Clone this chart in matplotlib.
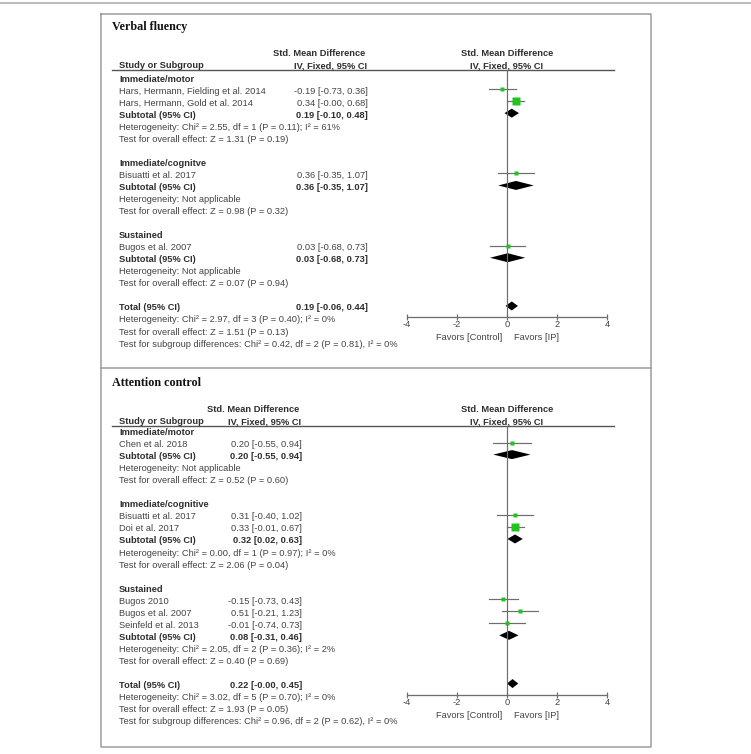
import matplotlib
matplotlib.use("Agg")
import matplotlib.pyplot as plt
from matplotlib import transforms

plt.rcParams["axes.unicode_minus"] = False
plt.rcParams["font.family"] = ["Liberation Sans", "DejaVu Sans"]

# ---- Verbal fluency ----
vf_groups = ["Immediate/motor", "Immediate/cognitve", "Sustained"]
vf_studies = [
    ["Hars, Hermann, Fielding et al. 2014", "Hars, Hermann, Gold et al. 2014"],
    ["Bisuatti et al. 2017"],
    ["Bugos et al. 2007"],
]
vf_est = [[-0.19, 0.34], [0.36], [0.03]]
vf_lo = [[-0.73, -0.0], [-0.35], [-0.68]]
vf_hi = [[0.36, 0.68], [1.07], [0.73]]
vf_sub = [(0.19, -0.10, 0.48), (0.36, -0.35, 1.07), (0.03, -0.68, 0.73)]
vf_het = [
    "Heterogeneity: Chi² = 2.55, df = 1 (P = 0.11); I² = 61%",
    "Heterogeneity: Not applicable",
    "Heterogeneity: Not applicable",
]
vf_test = [
    "Test for overall effect: Z = 1.31 (P = 0.19)",
    "Test for overall effect: Z = 0.98 (P = 0.32)",
    "Test for overall effect: Z = 0.07 (P = 0.94)",
]
vf_total = (0.19, -0.06, 0.44)
vf_total_text = [
    "Heterogeneity: Chi² = 2.97, df = 3 (P = 0.40); I² = 0%",
    "Test for overall effect: Z = 1.51 (P = 0.13)",
    "Test for subgroup differences: Chi² = 0.42, df = 2 (P = 0.81), I² = 0%",
]

# ---- Attention control ----
ac_groups = ["Immediate/motor", "Immediate/cognitive", "Sustained"]
ac_studies = [
    ["Chen et al. 2018"],
    ["Bisuatti et al. 2017", "Doi et al. 2017"],
    ["Bugos 2010", "Bugos et al. 2007", "Seinfeld et al. 2013"],
]
ac_est = [[0.20], [0.31, 0.33], [-0.15, 0.51, -0.01]]
ac_lo = [[-0.55], [-0.40, -0.01], [-0.73, -0.21, -0.74]]
ac_hi = [[0.94], [1.02, 0.67], [0.43, 1.23, 0.73]]
ac_sub = [(0.20, -0.55, 0.94), (0.32, 0.02, 0.63), (0.08, -0.31, 0.46)]
ac_het = [
    "Heterogeneity: Not applicable",
    "Heterogeneity: Chi² = 0.00, df = 1 (P = 0.97); I² = 0%",
    "Heterogeneity: Chi² = 2.05, df = 2 (P = 0.36); I² = 2%",
]
ac_test = [
    "Test for overall effect: Z = 0.52 (P = 0.60)",
    "Test for overall effect: Z = 2.06 (P = 0.04)",
    "Test for overall effect: Z = 0.40 (P = 0.69)",
]
ac_total = (0.22, -0.0, 0.45)
ac_total_text = [
    "Heterogeneity: Chi² = 3.02, df = 5 (P = 0.70); I² = 0%",
    "Test for overall effect: Z = 1.93 (P = 0.05)",
    "Test for subgroup differences: Chi² = 0.96, df = 2 (P = 0.62), I² = 0%",
]

ticks = [-4, -2, 0, 2, 4]

W, H = 751, 754
FS = 6.7
TXT = "#444444"
BOLD = "#2e2e2e"
GRID = "#6e6e6e"
GREEN = "#1fc41f"
PX = 0.72  # points per pixel


def fmt(e, l, h):
    return "%.2f [%.2f, %.2f]" % (e, l, h)


def draw_panel(fig, bg, title, y_title, y_rule, y_row0, y_axis, val_right,
               groups, studies, est, lo, hi, sub, het, test, total, total_text):
    step = 12.05
    bg.text(112, y_title, title, family="Liberation Serif", weight="bold",
            size=8.7, color="#111111", va="center")
    # table header
    bg.text(119, y_rule - 4, "Study or Subgroup", weight="bold", size=FS,
            color=BOLD, va="center")
    bg.text(val_right - 3, y_rule - 16.5, "Std. Mean Difference", weight="bold",
            size=FS, color=BOLD, va="center", ha="right")
    bg.text(val_right - 1, y_rule - 4, "IV, Fixed, 95% CI", weight="bold",
            size=FS, color=BOLD, va="center", ha="right")
    bg.plot([112, 614], [y_rule, y_rule], color="#555555", lw=1.4 * PX)

    # forest axes: x in effect units, y in pixel rows
    fa = fig.add_axes([407 / W, 1 - y_axis / H, 200 / W, (y_axis - y_rule) / H])
    fa.set_xlim(-4, 4)
    fa.set_ylim(y_axis, y_rule)
    fa.patch.set_alpha(0)
    for s in ["top", "left", "right"]:
        fa.spines[s].set_visible(False)
    fa.spines["bottom"].set_color(GRID)
    fa.spines["bottom"].set_linewidth(1.3 * PX)
    fa.set_yticks([])
    fa.set_xticks(ticks)
    fa.set_xticklabels([str(t) for t in ticks])
    fa.tick_params(axis="x", direction="inout", length=5.5 * PX, width=1.2 * PX,
                   color=GRID, labelsize=FS, labelcolor=TXT, pad=0.5)
    fa.axvline(0, color=GRID, lw=1.2 * PX)

    mix = transforms.blended_transform_factory(fa.transData, bg.transData)
    bg.text(0, y_rule - 16.5, "Std. Mean Difference", weight="bold", size=FS,
            color=BOLD, va="center", ha="center", transform=mix)
    bg.text(0, y_rule - 4, "IV, Fixed, 95% CI", weight="bold", size=FS,
            color=BOLD, va="center", ha="center", transform=mix)

    dh = 4.5
    row = 0
    for g in range(len(groups)):
        y = y_row0 + row * step
        bg.text(119, y, groups[g], weight="bold", size=FS, color=BOLD, va="center")
        row += 1
        for k, name in enumerate(studies[g]):
            y = y_row0 + row * step
            e, l, h = est[g][k], lo[g][k], hi[g][k]
            bg.text(119, y, name, size=FS, color=TXT, va="center")
            bg.text(val_right, y, fmt(e, l, h), size=FS, color=TXT, va="center",
                    ha="right")
            # inverse-variance weight -> square side in pixels
            wt = 1.0 / (h - l) ** 2
            side = 3.25 * wt
            fa.plot([l, h], [y - 2, y - 2], color=GRID, lw=1.2 * PX)
            fa.plot([e], [y - 2], "s", ms=max(side, 3.8) * PX, color=GREEN,
                    mec="none")
            row += 1
        y = y_row0 + row * step
        e, l, h = sub[g]
        bg.text(119, y, "Subtotal (95% CI)", weight="bold", size=FS, color=BOLD,
                va="center")
        bg.text(val_right, y, fmt(e, l, h), weight="bold", size=FS, color=BOLD,
                va="center", ha="right")
        fa.fill([l, e, h, e], [y - 2, y - 2 - dh, y - 2, y - 2 + dh],
                color="black", lw=0)
        row += 1
        for line in (het[g], test[g]):
            y = y_row0 + row * step
            bg.text(119, y, line, size=FS, color=TXT, va="center")
            row += 1
        row += 1

    y = y_row0 + row * step
    e, l, h = total
    bg.text(119, y, "Total (95% CI)", weight="bold", size=FS, color=BOLD,
            va="center")
    bg.text(val_right, y, fmt(e, l, h), weight="bold", size=FS, color=BOLD,
            va="center", ha="right")
    fa.fill([l, e, h, e], [y - 2, y - 2 - dh, y - 2, y - 2 + dh],
            color="black", lw=0)
    row += 1
    for line in total_text:
        y = y_row0 + row * step
        bg.text(119, y, line, size=FS, color=TXT, va="center")
        row += 1

    bg.text(-1.5, y_axis + 20.5, "Favors [Control]", size=FS, color=TXT,
            va="center", ha="center", transform=mix)
    bg.text(1.2, y_axis + 20.5, "Favors [IP]", size=FS, color=TXT,
            va="center", ha="center", transform=mix)


fig = plt.figure(figsize=(W / 100, H / 100), dpi=100)
bg = fig.add_axes([0, 0, 1, 1])
bg.set_xlim(0, W)
bg.set_ylim(H, 0)
bg.axis("off")

# frame lines
bg.plot([0, W], [3, 3], color="#a8a8a8", lw=1.5 * PX)
bg.plot([101, 651, 651, 101, 101], [14, 14, 747, 747, 14], color="#9a9a9a",
        lw=1.5 * PX)
bg.plot([101, 651], [368, 368], color="#9a9a9a", lw=1.5 * PX)

draw_panel(fig, bg, "Verbal fluency", 27, 70, 79, 317, 368,
           vf_groups, vf_studies, vf_est, vf_lo, vf_hi, vf_sub, vf_het, vf_test,
           vf_total, vf_total_text)
draw_panel(fig, bg, "Attention control", 383, 426, 432.5, 695, 302,
           ac_groups, ac_studies, ac_est, ac_lo, ac_hi, ac_sub, ac_het, ac_test,
           ac_total, ac_total_text)

fig.savefig("out.png", dpi=100)
